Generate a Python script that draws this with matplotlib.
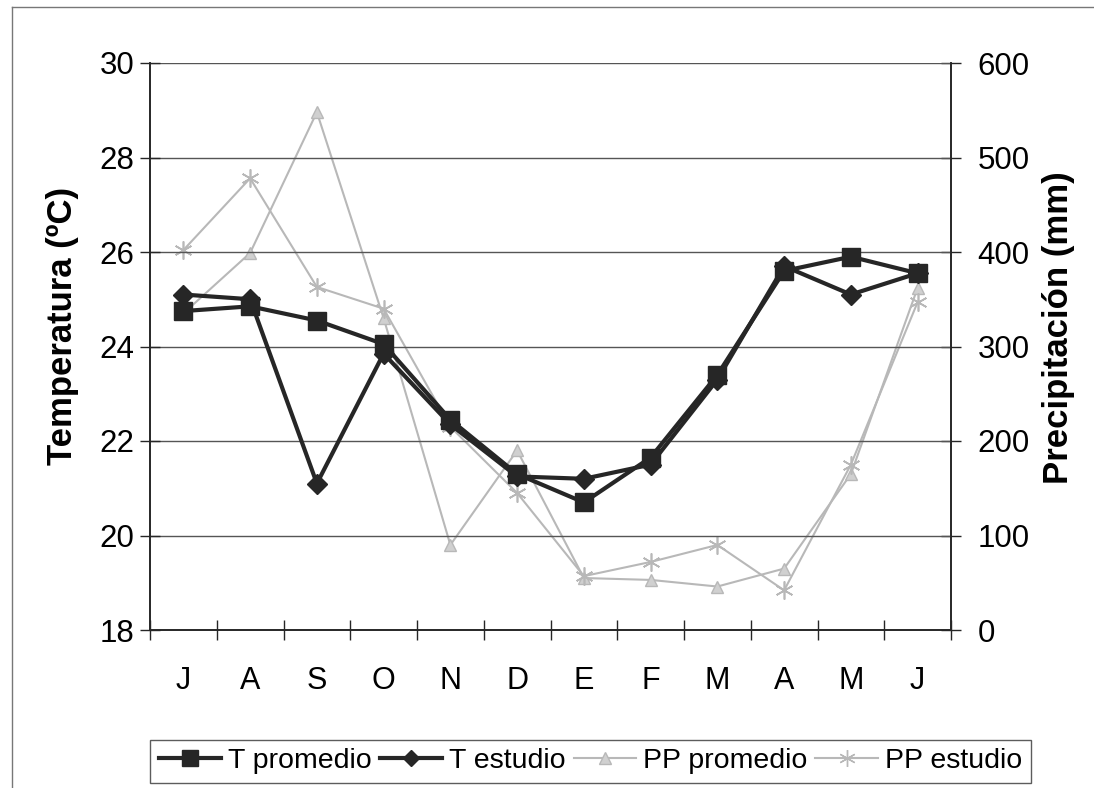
import matplotlib.pyplot as plt
from matplotlib.lines import Line2D

plt.rcParams['font.family'] = ['Liberation Sans', 'DejaVu Sans']

months = ['J', 'A', 'S', 'O', 'N', 'D', 'E', 'F', 'M', 'A', 'M', 'J']
t_promedio = [24.75, 24.85, 24.55, 24.05, 22.45, 21.3, 20.7, 21.65, 23.4, 25.6, 25.9, 25.55]
t_estudio = [25.1, 25.0, 21.1, 23.85, 22.35, 21.25, 21.2, 21.5, 23.3, 25.7, 25.1, 25.55]
pp_promedio = [335, 399, 548, 330, 90, 190, 55, 53, 46, 65, 165, 362]
pp_estudio = [402, 478, 363, 340, 215, 145, 57, 72, 90, 42, 175, 347]

x = list(range(len(months)))
dark = '#262626'
light = '#b8b8b8'

fig = plt.figure(figsize=(10.94, 7.88), dpi=100)
ax = fig.add_axes([150 / 1094, 1 - 630 / 788, 801 / 1094, 567 / 788])
ax2 = ax.twinx()

# precipitation (light grey, thin) under the temperature lines
ax2.plot(x, pp_promedio, color=light, lw=1.5, marker='^', ms=9,
         mfc='#d0d0d0', mec=light, label='PP promedio')
ax2.plot(x, pp_estudio, color=light, lw=1.5, marker=(6, 2, 0), ms=13,
         mec=light, mew=1.2, label='PP estudio')
ax2.set_ylim(0, 600)
ax2.set_yticks(range(0, 601, 100))

ax.plot(x, t_promedio, color=dark, lw=3, marker='s', ms=13, label='T promedio', zorder=5)
ax.plot(x, t_estudio, color=dark, lw=3, marker='D', ms=10, label='T estudio', zorder=5)
ax.set_ylim(18, 30)
ax.set_yticks(range(18, 31, 2))
ax.set_xlim(-0.5, len(months) - 0.5)
ax.set_zorder(ax2.get_zorder() + 1)
ax.patch.set_visible(False)

# month labels centred, ticks between categories
ax.set_xticks(x)
ax.set_xticklabels(months)
ax.set_xticks([i - 0.5 for i in range(len(months) + 1)], minor=True)
ax.tick_params(axis='x', which='major', length=0, pad=26, labelsize=22)
ax.tick_params(axis='x', which='minor', length=14, width=1, direction='inout', color=dark)
ax.tick_params(axis='y', length=14, width=1, direction='inout', labelsize=22.5, pad=4, color=dark)
ax2.tick_params(axis='y', length=14, width=1, direction='inout', labelsize=22.5, pad=12, color=dark)

ax.grid(axis='y', color='#555555', lw=1)
for a in (ax, ax2):
    a.spines['top'].set_visible(False)
    for s in ('left', 'right', 'bottom'):
        a.spines[s].set_color(dark)
        a.spines[s].set_linewidth(1.2)

ax.set_ylabel('Temperatura (ºC)', fontsize=25, fontweight='bold')
ax2.set_ylabel('Precipitación (mm)', fontsize=25, fontweight='bold')
ax.yaxis.set_label_coords(-0.089, 0.536)
ax2.yaxis.set_label_coords(1.114, 0.533)

handles = [
    Line2D([], [], color=dark, lw=3, marker='s', ms=11),
    Line2D([], [], color=dark, lw=3, marker='D', ms=8),
    Line2D([], [], color=light, lw=1.5, marker='^', ms=9, mfc='#d0d0d0', mec=light),
    Line2D([], [], color=light, lw=1.5, marker=(6, 2, 0), ms=12, mec=light),
]
leg = fig.legend(handles, ['T promedio', 'T estudio', 'PP promedio', 'PP estudio'],
                 loc='lower left', bbox_to_anchor=(150 / 1094, 1 - 783 / 788, 881 / 1094, 50 / 788),
                 mode='expand', ncol=4, fontsize=20.5, frameon=True, fancybox=False,
                 handlelength=2.2, handletextpad=0.25, columnspacing=0.5, borderaxespad=0,
                 borderpad=0.3)
leg.get_frame().set_edgecolor('#333333')
leg.get_frame().set_linewidth(1)

# outer chart frame (left and top edges visible in the scan)
fig.add_artist(Line2D([12 / 1094, 12 / 1094], [0, 1 - 7 / 788], transform=fig.transFigure, color='#777777', lw=1))
fig.add_artist(Line2D([12 / 1094, 1], [1 - 7 / 788, 1 - 7 / 788], transform=fig.transFigure, color='#777777', lw=1))

fig.savefig('out.png', dpi=100)
